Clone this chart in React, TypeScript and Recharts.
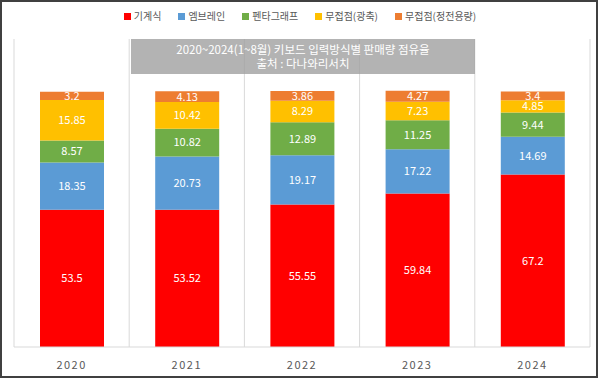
import React from 'react';
import { BarChart, Bar, XAxis, YAxis, CartesianGrid, LabelList } from 'recharts';

const years = ['2020', '2021', '2022', '2023', '2024'];
const mechanical = [53.5, 53.52, 55.55, 59.84, 67.2];
const membrane = [18.35, 20.73, 19.17, 17.22, 14.69];
const pantograph = [8.57, 10.82, 12.89, 11.25, 9.44];
const optical = [15.85, 10.42, 8.29, 7.23, 4.85];
const capacitive = [3.2, 4.13, 3.86, 4.27, 3.4];

const SERIES = [
  { key: 'mechanical', name: '기계식', color: '#FF0000', values: mechanical },
  { key: 'membrane', name: '엠브레인', color: '#5B9BD5', values: membrane },
  { key: 'pantograph', name: '펜타그래프', color: '#70AD47', values: pantograph },
  { key: 'optical', name: '무접점(광축)', color: '#FFC000', values: optical },
  { key: 'capacitive', name: '무접점(정전용량)', color: '#ED7D31', values: capacitive },
];

const data = years.map((year, i) => {
  const row: Record<string, string | number> = { year };
  SERIES.forEach((s) => {
    row[s.key] = s.values[i];
  });
  return row;
});

const FONT = '"Noto Sans CJK KR", "Noto Sans", sans-serif';

// gridlines sit between categories, not on them
const boundaries = ({ offset }: any) =>
  Array.from({ length: years.length + 1 }, (_, i) => offset.left + (i * offset.width) / years.length);

export default function App() {
  return (
    <div style={{ position: 'absolute', left: 0, top: 0, width: 600, height: 380, background: '#fff', fontFamily: FONT }}>
      <BarChart
        width={600}
        height={380}
        data={data}
        margin={{ top: 39, right: 10, left: 14, bottom: 3 }}
        barSize={64}
      >
        <CartesianGrid horizontal={false} stroke="#d9d9d9" verticalCoordinatesGenerator={boundaries} />
        <XAxis
          dataKey="year"
          height={30}
          axisLine={{ stroke: '#d9d9d9' }}
          tickLine={false}
          tickMargin={8}
          tick={{ fill: '#595959', fontSize: 11, letterSpacing: 1.5, fontFamily: FONT }}
        />
        <YAxis hide domain={[0, 120]} />
        {SERIES.map((s) => (
          <Bar key={s.key} dataKey={s.key} name={s.name} stackId="a" fill={s.color} isAnimationActive={false}>
            <LabelList dataKey={s.key} position="center" fill="#fff" fontSize={11} fontFamily={FONT} />
          </Bar>
        ))}
      </BarChart>

      {/* legend */}
      <div
        style={{
          position: 'absolute',
          top: 9,
          left: 0,
          width: 600,
          display: 'flex',
          justifyContent: 'center',
          fontSize: 10,
          lineHeight: '14px',
          color: '#595959',
        }}
      >
        {SERIES.map((s, i) => (
          <div key={s.key} style={{ display: 'flex', alignItems: 'center', marginRight: i < SERIES.length - 1 ? 17 : 0 }}>
            <span style={{ width: 7, height: 7, background: s.color, marginRight: 3, display: 'inline-block' }} />
            <span>{s.name}</span>
          </div>
        ))}
      </div>

      {/* title box */}
      <div
        style={{
          position: 'absolute',
          left: 131,
          top: 39,
          width: 344,
          height: 35,
          boxSizing: 'border-box',
          paddingTop: 3,
          background: 'rgba(160,160,160,0.8)',
          color: '#fff',
          fontSize: 11.5,
          lineHeight: '14px',
          textAlign: 'center',
        }}
      >
        <div>2020~2024(1~8월) 키보드 입력방식별 판매량 점유율</div>
        <div>출처 : 다나와리서치</div>
      </div>

      {/* frame */}
      <div
        style={{
          position: 'absolute',
          left: 0,
          top: 0,
          width: 598,
          height: 378,
          boxSizing: 'border-box',
          border: '2px solid #404040',
          pointerEvents: 'none',
        }}
      />
    </div>
  );
}
